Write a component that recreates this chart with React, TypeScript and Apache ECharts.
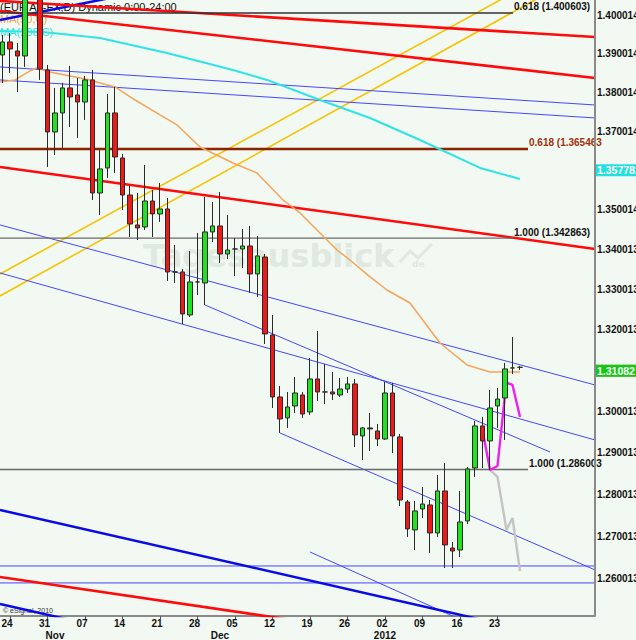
import React, { useEffect, useRef } from "react";
import * as echarts from "echarts";

// ---------- data ----------
const FIRST_IDX = -1; // candle index of the first row (Fri 21 Oct 2011)
// [open, close, low, high]
const ohlc: number[][] = [
  [1.38965, 1.39304, 1.3824, 1.39486],
  [1.39304, 1.39121, 1.38499, 1.39539],
  [1.39069, 1.38939, 1.38007, 1.39277],
  [1.38939, 1.4135, 1.38654, 1.419],
  [1.4165, 1.412, 1.4075, 1.4225],
  [1.412, 1.38603, 1.38318, 1.416],
  [1.38577, 1.36979, 1.36086, 1.38706],
  [1.36979, 1.37467, 1.36391, 1.38111],
  [1.37467, 1.38111, 1.36569, 1.3824],
  [1.38111, 1.37878, 1.37108, 1.3868],
  [1.3793, 1.37749, 1.36826, 1.3837],
  [1.37749, 1.38318, 1.37287, 1.38421],
  [1.38318, 1.35425, 1.35247, 1.38577],
  [1.35425, 1.36035, 1.3487, 1.36518],
  [1.3606, 1.37467, 1.35806, 1.37955],
  [1.37467, 1.3634, 1.35933, 1.38137],
  [1.36314, 1.35374, 1.34996, 1.36416],
  [1.35374, 1.34643, 1.34316, 1.35603],
  [1.34618, 1.34543, 1.34241, 1.35425],
  [1.34568, 1.35222, 1.34492, 1.36137],
  [1.35222, 1.34895, 1.34316, 1.35501],
  [1.34895, 1.35021, 1.34694, 1.35679],
  [1.35021, 1.3344, 1.33216, 1.35298],
  [1.3344, 1.3344, 1.33166, 1.34115],
  [1.3344, 1.32396, 1.32149, 1.33515],
  [1.32371, 1.33191, 1.32322, 1.33964],
  [1.33191, 1.33191, 1.32867, 1.34417],
  [1.33166, 1.34442, 1.32618, 1.35324],
  [1.34442, 1.34593, 1.3419, 1.35197],
  [1.34593, 1.33889, 1.33665, 1.35451],
  [1.33889, 1.33989, 1.33764, 1.3487],
  [1.34014, 1.34014, 1.3334, 1.34291],
  [1.34014, 1.3409, 1.3354, 1.34517],
  [1.3409, 1.3339, 1.32917, 1.34593],
  [1.3339, 1.33839, 1.32817, 1.34341],
  [1.33814, 1.31902, 1.31655, 1.33889],
  [1.31877, 1.30357, 1.30089, 1.32371],
  [1.30357, 1.29822, 1.29483, 1.30626],
  [1.29847, 1.30113, 1.29604, 1.30479],
  [1.30137, 1.30454, 1.29968, 1.30846],
  [1.30405, 1.29943, 1.29847, 1.30479],
  [1.29992, 1.30797, 1.29919, 1.31311],
  [1.30797, 1.30479, 1.30259, 1.31976],
  [1.30479, 1.30479, 1.30186, 1.31164],
  [1.30479, 1.3043, 1.30283, 1.30968],
  [1.30405, 1.30552, 1.30357, 1.30821],
  [1.30552, 1.30675, 1.30454, 1.30846],
  [1.30675, 1.29434, 1.29143, 1.30797],
  [1.2941, 1.29604, 1.2883, 1.29628],
  [1.29604, 1.2958, 1.29047, 1.29968],
  [1.29531, 1.29337, 1.29168, 1.29701],
  [1.29337, 1.30454, 1.29313, 1.30724],
  [1.30454, 1.2941, 1.28999, 1.30699],
  [1.29386, 1.2787, 1.27727, 1.29459],
  [1.27822, 1.27179, 1.26989, 1.2787],
  [1.27156, 1.27608, 1.2668, 1.27846],
  [1.27655, 1.27774, 1.27441, 1.28182],
  [1.27751, 1.27084, 1.26609, 1.2787],
  [1.27084, 1.28086, 1.26989, 1.2847],
  [1.28086, 1.26799, 1.26255, 1.28758],
  [1.26727, 1.26656, 1.26255, 1.2687],
  [1.2668, 1.27346, 1.26514, 1.28086],
  [1.2737, 1.28614, 1.27298, 1.28662],
  [1.28638, 1.29653, 1.28422, 1.29774],
  [1.29653, 1.29289, 1.28638, 1.29871],
  [1.29289, 1.30089, 1.2859, 1.30528],
  [1.30137, 1.30306, 1.29604, 1.30577],
  [1.30332, 1.31042, 1.29313, 1.31189],
  [1.31066, 1.31066, 1.30919, 1.31828],
  [1.31082, 1.31082, 1.31017, 1.31115],
];

// moving averages [candle index, price]
const ma50: number[][] = [
  [-1.33, 1.38266], [0.67, 1.38318], [2.67, 1.38551], [3.6, 1.38629], [5.33, 1.38525],
  [10.67, 1.38318], [12, 1.3824], [14, 1.38137], [16.67, 1.378], [20, 1.37415],
  [22.27, 1.37159], [25.33, 1.36595], [29.73, 1.36187], [32.93, 1.35933], [36.4, 1.35247],
  [38.67, 1.3492], [41.33, 1.34417], [43.6, 1.33989], [45.33, 1.33739], [48, 1.33316],
  [50.27, 1.32991], [53.33, 1.32668], [57.33, 1.3168], [60.93, 1.3114], [64, 1.30968],
  [68, 1.30968],
];
const ma200: number[][] = [
  [-1.33, 1.39591], [4.4, 1.39565], [12, 1.39408], [20.93, 1.39017], [29.73, 1.38577],
  [34.27, 1.38318], [41.33, 1.378], [48, 1.37338], [54.67, 1.36774], [62.67, 1.3606],
  [68, 1.35781],
];

// trend lines [[idx, price], [idx, price]]
const blueThin: number[][][] = [
  [[-1.3333, 1.38654], [78, 1.37672]],
  [[-1.3333, 1.38318], [78, 1.37338]],
  [[-1.3333, 1.34618], [78, 1.3065]],
  [[-1.3333, 1.33415], [78, 1.29313]],
  [[26, 1.32618], [72, 1.29023]],
  [[36, 1.29483], [78, 1.26208]],
  [[40, 1.26632], [60, 1.25049]],
  [[-1.3333, 1.26302], [78, 1.26302]],
  [[-1.3333, 1.25902], [78, 1.25902]],
];
const blueThick: number[][][] = [
  [[-1.3333, 1.27632], [68, 1.24835]],
  [[-1.3333, 1.25406], [8, 1.25035]],
  [[-1.3333, 1.39878], [13.33, 1.40453]],
];
const redLines: number[][][] = [
  [[-1.3333, 1.40375], [78, 1.39434]],
  [[-1.3333, 1.40114], [78, 1.3837]],
  [[-1.3333, 1.36086], [78, 1.34014]],
  [[-1.3333, 1.26043], [38.67, 1.25006]],
];
const yellowLines: number[][][] = [
  [[-1.3333, 1.3339], [68, 1.40688]],
  [[-1.3333, 1.32842], [73.33, 1.40767]],
];
// fibonacci levels: [start idx, end idx, price]
const fibLevels: number[][] = [
  [-1.3333, 67.07, 1.400603],
  [-1.3333, 69.07, 1.365463],
  [-1.3333, 67.07, 1.342863],
  [-1.3333, 69.07, 1.286003],
];
const fibTexts = ["0.618 (1.400603)", "0.618 (1.365463", "1.000 (1.342863)", "1.000 (1.286003"];

const projMagenta: number[][] = [
  [63, 1.29556], [64, 1.2859], [65, 1.28686], [66, 1.30405], [66.3, 1.30699], [67, 1.3065], [68, 1.29871],
];
const projGray: number[][] = [
  [64, 1.2859], [65, 1.28422], [66.2, 1.27156], [67, 1.27441], [68, 1.26184],
];

const yTickLabels = [
  "1.260013", "1.270013", "1.280013", "1.290013", "1.300013", "1.310013", "1.320013",
  "1.330013", "1.340013", "1.350014", "1.360014", "1.370014", "1.380014", "1.390014", "1.400014",
];
const dayTickIdx = [0, 5, 10, 15, 20, 25, 30, 35, 40, 45, 50, 55, 60, 65];
const dayTickLabels = ["24", "31", "07", "14", "21", "28", "05", "12", "19", "26", "02", "09", "16", "23"];
const monthIdx = [6, 28, 50];
const monthLabels = ["Nov", "Dec", "2012"];

const lastPrice = 1.31082;
const ma200Last = 1.357782;
const ma50Last = 1.30968;

// ---------- chart ----------
const FONT = "Liberation Sans, Arial, sans-serif";
const X_MIN = -1.3333;
const X_MAX = 78;

function lineSeries(data: number[][], color: string, width: number, z: number, extra: any = {}) {
  return {
    type: "line",
    data,
    symbol: "none",
    silent: true,
    clip: true,
    z,
    lineStyle: { color, width },
    ...extra,
  };
}

function nearestLabel(v: number, vals: number[], labels: string[]) {
  let b = 0;
  for (let i = 1; i < vals.length; i++) if (Math.abs(vals[i] - v) < Math.abs(vals[b] - v)) b = i;
  return labels[b];
}

function priceBox(value: number, text: string, bg: string) {
  return {
    silent: true,
    symbol: ["none", "none"],
    lineStyle: { color: "rgba(0,0,0,0)", width: 1, opacity: 1 },
    label: {
      show: true,
      position: "end",
      distance: 1,
      formatter: text,
      color: "#ffffff",
      opacity: 1,
      backgroundColor: bg,
      fontWeight: "bold",
      fontSize: 10.5,
      fontFamily: FONT,
      padding: [1, 1, 0, 1],
    },
    emphasis: { disabled: true },
    data: [{ yAxis: value }],
  };
}

export default function App() {
  const ref = useRef<HTMLDivElement>(null);
  useEffect(() => {
    if (!ref.current) return;
    const chart = echarts.init(ref.current, undefined, { renderer: "svg" });
    const yVals = yTickLabels.map(Number);
    const candleData = ohlc.map((r, i) => [i + FIRST_IDX, r[0], r[1], r[2], r[3]]);
    const series: any[] = [];

    yellowLines.forEach((l) => series.push(lineSeries(l, "#f5c400", 1.6, 3)));
    blueThin.forEach((l) => series.push(lineSeries(l, "#4646ff", 1, 3)));
    blueThick.forEach((l) => series.push(lineSeries(l, "#0a0ae6", 2.5, 3)));
    redLines.forEach((l) => series.push(lineSeries(l, "#ff0a0a", 2.6, 3)));
    fibLevels.forEach((f, i) => {
      const color = i === 1 ? "#8b2200" : i === 0 ? "#333333" : "#6a6a6a";
      series.push(
        lineSeries([[f[0], f[2]], [f[1], f[2]]], color, i === 1 ? 2.5 : 1.4, 3, {
          endLabel: {
            show: true,
            formatter: fibTexts[i],
            color: i === 1 ? "#a0300a" : "#111",
            fontSize: 10,
            fontWeight: "bold",
            fontFamily: FONT,
            distance: 1,
            offset: [0, -6],
          },
        })
      );
    });
    // right plot border
    series.push(
      lineSeries([[X_MAX, 1.25126], [X_MAX, 1.40401]], "#8a8a8a", 2, 9, { clip: false })
    );
    series.push(lineSeries(ma50, "#f5a55a", 1.5, 7, { markLine: priceBox(ma50Last, "1.30968", "#f2a35c") }));
    series.push(lineSeries(ma200, "#30e4e4", 2, 4, { markLine: priceBox(ma200Last, "1.357782", "#22e0e0") }));
    series.push(lineSeries(projGray, "#c4c4c4", 2.4, 4));
    series.push(lineSeries(projMagenta, "#f020f0", 2.4, 5));
    series.push({
      type: "candlestick",
      data: candleData,
      dimensions: ["x", "open", "close", "low", "high"],
      encode: { x: "x", y: ["open", "close", "low", "high"] },
      barWidth: 5,
      z: 8,
      silent: true,
      clip: true,
      itemStyle: {
        color: "#22e022",
        color0: "#ee1a1a",
        borderColor: "#2a2a2a",
        borderColor0: "#2a2a2a",
        borderWidth: 1,
      },
      markLine: priceBox(lastPrice, "1.31082", "#12c812"),
    });

    const option: any = {
      animation: false,
      backgroundColor: "#f2f8f2",
      grid: { left: 0, top: 0, width: 595, height: 616, outerBoundsMode: "none", containLabel: false },
      xAxis: [
        {
          type: "value",
          min: X_MIN,
          max: X_MAX,
          position: "bottom",
          axisLine: { show: true, onZero: false, lineStyle: { color: "#8a8a8a", width: 2 } },
          axisTick: { show: true, customValues: dayTickIdx, length: 3, lineStyle: { color: "#555" } },
          axisLabel: {
            customValues: dayTickIdx.map((v) => v - 0.4),
            formatter: (v: number) => nearestLabel(v, dayTickIdx, dayTickLabels),
            color: "#111",
            fontSize: 10,
            fontWeight: "bold",
            fontFamily: FONT,
            margin: 2,
          },
          splitLine: { show: false },
        },
        {
          type: "value",
          min: X_MIN,
          max: X_MAX,
          position: "bottom",
          offset: 12,
          axisLine: { show: false, onZero: false },
          axisTick: { show: false },
          axisLabel: {
            customValues: monthIdx,
            formatter: (v: number) => nearestLabel(v, monthIdx, monthLabels),
            color: "#111",
            fontSize: 10,
            fontWeight: "bold",
            fontFamily: FONT,
            margin: 2,
          },
          splitLine: { show: false },
        },
      ],
      yAxis: {
        type: "log",
        logBase: 10,
        min: 1.25126,
        max: 1.40401,
        position: "right",
        axisLine: { show: false, onZero: false },
        axisTick: { show: false },
        splitLine: { show: false },
        axisLabel: {
          customValues: yVals,
          formatter: (v: number) => nearestLabel(v, yVals, yTickLabels),
          color: "#111",
          fontSize: 10,
          fontWeight: "bold",
          fontFamily: FONT,
          margin: 2,
        },
      },
      graphic: [
        {
          type: "text",
          x: 143,
          y: 240,
          z: 0,
          silent: true,
          style: { text: "Tagesausblick", fill: "#dfe9df", fontSize: 32, fontWeight: "bold", fontFamily: "DejaVu Sans" },
        },
        {
          type: "text",
          x: 412,
          y: 259,
          z: 0,
          silent: true,
          style: { text: "de", fill: "#dfe9df", fontSize: 9, fontWeight: "bold", fontFamily: "DejaVu Sans" },
        },
        {
          type: "polyline",
          z: 0,
          silent: true,
          shape: { points: [[400, 262], [410, 251], [418, 258], [432, 244]] },
          style: { stroke: "#dfe9df", lineWidth: 3, fill: "none" },
        },
        {
          type: "text",
          x: 0,
          y: 1,
          z: 0,
          silent: true,
          style: { text: "(EUR A0-FX,D) Dynamic 0:00-24:00", fill: "#111", fontSize: 11, fontFamily: FONT },
        },
        {
          type: "text",
          x: 0,
          y: 13,
          z: 0,
          silent: true,
          style: { text: "MA(50,C)", fill: "#f5a55a", fontSize: 11, fontFamily: FONT },
        },
        {
          type: "text",
          x: 0,
          y: 26,
          z: 0,
          silent: true,
          style: { text: "MA(200,C)", fill: "#30e4e4", fontSize: 11, fontFamily: FONT },
        },
        {
          type: "text",
          x: 3,
          y: 607,
          z: 0,
          silent: true,
          style: { text: "© eSignal, 2010", fill: "#333", fontSize: 7, fontFamily: FONT },
        },
      ],
      series,
    };
    chart.setOption(option);
    return () => chart.dispose();
  }, []);
  return <div ref={ref} style={{ position: "fixed", left: 0, top: 0, width: 636, height: 640 }} />;
}
